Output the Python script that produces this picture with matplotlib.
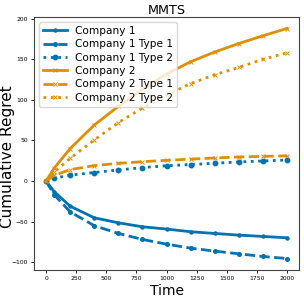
import numpy as np
import matplotlib
matplotlib.use("Agg")
import matplotlib.pyplot as plt

# time steps at which the regret was recorded
time = [0, 68, 200, 400, 600, 800, 1000, 1200, 1400, 1600, 1800, 2000]

# cumulative regret
c1 = [0, -13.2, -31, -45.3, -51.5, -56.4, -59.2, -62.5, -64.6, -66.7, -68.3, -70]
c1_t1 = [0, -17, -38, -55, -64.6, -72, -77.8, -82.7, -86.4, -89.7, -93, -95.5]
c1_t2 = [0, 3.5, 7.2, 10.5, 13.6, 16.6, 18.8, 20.3, 21.9, 23.5, 24.7, 26]
c2 = [0, 16, 40, 69, 92, 113, 132, 147, 159, 169.5, 179, 188]
c2_t1 = [0, 7, 14, 19, 21.8, 23.8, 25.5, 27, 28.4, 29.6, 30.4, 31]
c2_t2 = [0, 11, 28, 50.6, 72, 90, 106, 120, 131, 140, 150, 158]

blue = '#0173b2'
orange = '#de8f05'

fig = plt.figure(figsize=(3.04, 3.03), dpi=100)
ax = fig.add_axes([34 / 304, 1 - 270 / 303, 265 / 304, 253 / 303])

lw = 2.0
ax.plot(time, c1, color=blue, ls='-', lw=lw, marker='o', ms=2.2, label='Company 1')
ax.plot(time, c1_t1, color=blue, ls='--', lw=lw, marker='o', ms=2.6, label='Company 1 Type 1')
ax.plot(time, c1_t2, color=blue, ls=':', lw=lw, marker='o', ms=3.2, label='Company 1 Type 2')
ax.plot(time, c2, color=orange, ls='-', lw=lw, marker='x', ms=2.5, mew=0.7, label='Company 2')
ax.plot(time, c2_t1, color=orange, ls='--', lw=lw, marker='x', ms=2.5, mew=0.7, label='Company 2 Type 1')
ax.plot(time, c2_t2, color=orange, ls=':', lw=lw, marker='x', ms=2.5, mew=0.7, label='Company 2 Type 2')

ax.set_xticks([0, 250, 500, 750, 1000, 1250, 1500, 1750, 2000])
ax.set_yticks([-100, -50, 0, 50, 100, 150, 200])
ax.tick_params(labelsize=4.3, length=2.5, width=0.6, pad=2)
for s in ax.spines.values():
    s.set_linewidth(0.8)
    s.set_color('#444444')

ax.set_title('MMTS', fontsize=9.2, pad=2)
ax.set_xlabel('Time', fontsize=10, labelpad=2)
ax.set_ylabel('Cumulative Regret', fontsize=11)
ax.yaxis.set_label_coords(-0.073, 0.45)
ax.legend(loc='upper left', fontsize=7.6, handlelength=2.3, borderaxespad=0.45,
          labelspacing=0.32, handletextpad=0.75, borderpad=0.4)

fig.savefig('out.png', dpi=100)
